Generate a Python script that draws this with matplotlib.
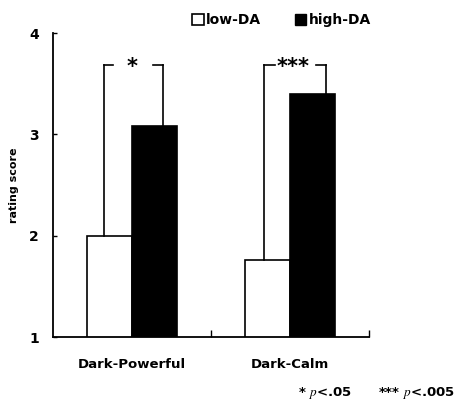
import matplotlib.pyplot as plt
from matplotlib.patches import Patch
import numpy as np

plt.rcParams['font.family'] = ['DejaVu Sans']
plt.rcParams['mathtext.fontset'] = 'stix'

categories = ['Dark-Powerful', 'Dark-Calm']
low_da = [2.0, 1.76]
high_da = [3.08, 3.40]
bracket_top = [3.68, 3.68]
stars = ['*', '***']

fig = plt.figure(figsize=(4.58, 4.08), dpi=100)
ax = fig.add_axes([0.1157, 0.174, 0.69, 0.745])

x = np.arange(len(categories))
w = 0.285
ax.bar(x - w / 2, low_da, w, color='white', edgecolor='black', linewidth=1.2)
ax.bar(x + w / 2, high_da, w, color='black', edgecolor='black', linewidth=1.2)

# significance brackets
left_off = [-0.18, -0.165]
right_off = [0.196, 0.228]
arm = [(0.06, 0.06), (0.07, 0.065)]
for i in range(len(categories)):
    xl = x[i] + left_off[i]
    xr = x[i] + right_off[i]
    top = bracket_top[i]
    ax.plot([xl, xl], [low_da[i], top], color='black', lw=1.2)
    ax.plot([xr, xr], [high_da[i], top], color='black', lw=1.2)
    ax.plot([xl, xl + arm[i][0]], [top, top], color='black', lw=1.2)
    ax.plot([xr - arm[i][1], xr], [top, top], color='black', lw=1.2)
    mid = (xl + xr) / 2
    ax.text(mid - 0.01, top - 0.015, stars[i], ha='center', va='center',
            fontsize=15, fontweight='bold')

ax.set_xlim(-0.5, 1.5)
ax.set_ylim(1, 4)
ax.set_yticks([1, 2, 3, 4])
ax.tick_params(axis='y', direction='in', length=3, width=1, pad=10, labelsize=10)
for lab in ax.get_yticklabels():
    lab.set_fontweight('bold')

ax.set_xticks(x)
ax.set_xticklabels(categories, fontsize=9.5, fontweight='bold')
ax.tick_params(axis='x', which='major', length=0, pad=15)
ax.set_xticks([0.5, 1.5], minor=True)
ax.tick_params(axis='x', which='minor', direction='in', length=5, width=1)

for s in ['top', 'right']:
    ax.spines[s].set_visible(False)
for s in ['left', 'bottom']:
    ax.spines[s].set_linewidth(1.3)

ax.set_ylabel('rating score', fontsize=8, fontweight='bold')
ax.yaxis.set_label_coords(-0.108, 0.5)

handles = [Patch(facecolor='white', edgecolor='black', linewidth=1.2, label='low-DA'),
           Patch(facecolor='black', edgecolor='black', label='high-DA')]
fig.legend(handles=handles, loc='center', bbox_to_anchor=(0.615, 0.95), ncol=2,
           frameon=False, handlelength=0.8, handleheight=0.8, handletextpad=0.2,
           columnspacing=2.4, prop={'size': 10, 'weight': 'bold'})

fig.text(0.65, 0.037, r'* $p$<.05', fontsize=9.5, fontweight='bold', va='center')
fig.text(0.825, 0.037, r'*** $p$<.005', fontsize=9.5, fontweight='bold', va='center')

fig.savefig('out.png', dpi=100)
